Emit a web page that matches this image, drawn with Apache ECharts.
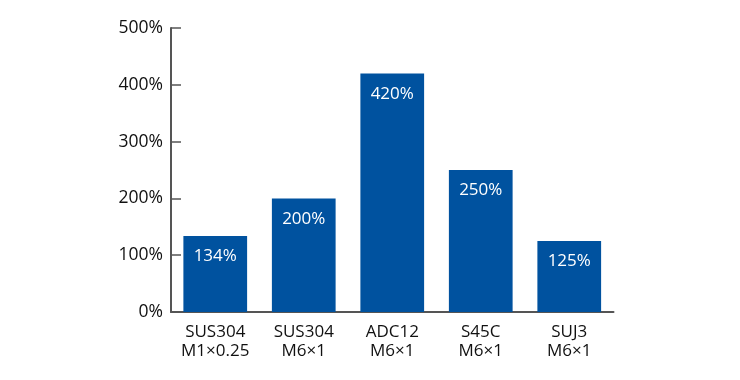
<!DOCTYPE html>
<html><head><meta charset="utf-8">
<script src="https://cdn.jsdelivr.net/npm/echarts@6/dist/echarts.min.js"></script>
<style>html,body{margin:0;padding:0;background:#fff}#c{width:740px;height:380px}</style>
</head><body><div id="c"></div>
<script>
const categories = ['SUS304\nM1×0.25', 'SUS304\nM6×1', 'ADC12\nM6×1', 'S45C\nM6×1', 'SUJ3\nM6×1'];
const values = [134, 200, 420, 250, 125];
const yTicks = [0, 100, 200, 300, 400, 500];

const font = '"Open Sans", sans-serif';
const chart = echarts.init(document.getElementById('c'));
chart.setOption({
  animation: false,
  backgroundColor: '#fff',
  grid: { left: 171, right: 126.5, top: 28, bottom: 68 },
  xAxis: {
    type: 'category', data: categories,
    axisLine: { lineStyle: { color: '#555', width: 2 } },
    axisTick: { inside: true, length: 8, lineStyle: { color: '#555', width: 1.5 } },
    axisLabel: { interval: 0, hideOverlap: false, color: '#111', fontFamily: font, fontSize: 17, lineHeight: 19, margin: 11 }
  },
  yAxis: {
    type: 'value', min: yTicks[0], max: yTicks[yTicks.length - 1], interval: 100,
    axisLine: { show: true, lineStyle: { color: '#555', width: 2 } },
    axisTick: { show: true, inside: true, length: 10, lineStyle: { color: '#555', width: 1.5 } },
    splitLine: { show: false },
    axisLabel: { color: '#111', fontFamily: font, fontSize: 17.5, margin: 8, formatter: v => v + '%' }
  },
  series: [{
    type: 'bar', data: values, barWidth: '72%',
    itemStyle: { color: '#00529f' },
    label: { show: true, position: 'insideTop', distance: 12, color: '#fff', fontFamily: font, fontSize: 17, formatter: p => p.value + '%' }
  }]
});
</script></body></html>
